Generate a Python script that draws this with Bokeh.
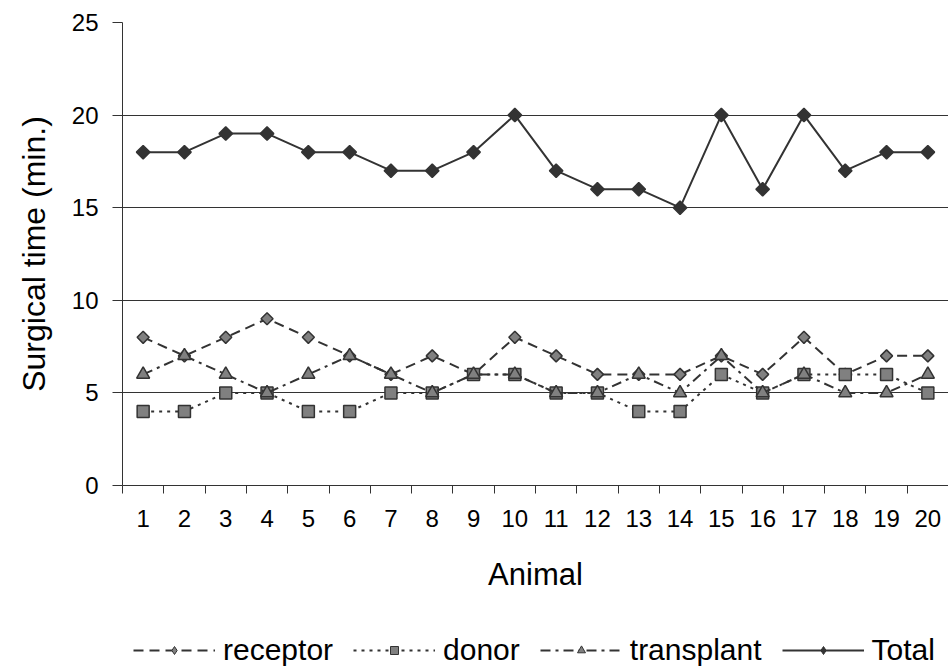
from bokeh.plotting import figure
from bokeh.layouts import column
from bokeh.models import Range1d, FixedTicker, Legend, LegendItem
from bokeh.embed import file_html
from bokeh.resources import INLINE

# Surgical times (minutes) per animal
animals = list(range(1, 21))
receptor = [8, 7, 8, 9, 8, 7, 6, 7, 6, 8, 7, 6, 6, 6, 7, 6, 8, 6, 7, 7]
donor = [4, 4, 5, 5, 4, 4, 5, 5, 6, 6, 5, 5, 4, 4, 6, 5, 6, 6, 6, 5]
transplant = [6, 7, 6, 5, 6, 7, 6, 5, 6, 6, 5, 5, 6, 5, 7, 5, 6, 5, 5, 6]
total = [18, 18, 19, 19, 18, 18, 17, 17, 18, 20, 17, 16, 16, 15, 20, 16, 20, 17, 18, 18]
y_ticks = [0, 5, 10, 15, 20, 25]

FONT = "Liberation Sans"
DARK = "#333333"
GREY = "#808080"

p = figure(width=948, height=615, output_backend="svg", toolbar_location=None,
           x_range=Range1d(0.5, 20.5), y_range=Range1d(0, 25),
           min_border_left=122, min_border_right=0, min_border_top=22,
           min_border_bottom=130)
p.outline_line_color = None
p.background_fill_color = "white"
p.border_fill_color = "white"

# x axis: labels at category centres, ticks on category boundaries
p.xaxis.ticker = FixedTicker(ticks=animals,
                             minor_ticks=[a - 0.5 for a in animals] + [20.5])
p.xaxis.major_label_overrides = {a: str(a) for a in animals}
p.xaxis.major_tick_line_color = None
p.xaxis.major_tick_out = 8
p.xaxis.major_tick_in = 0
p.xaxis.minor_tick_out = 8
p.xaxis.minor_tick_in = 0
p.xaxis.minor_tick_line_color = DARK
p.xaxis.axis_line_color = DARK
p.xaxis.axis_label = "Animal"
p.xaxis.major_label_standoff = 16
p.xaxis.axis_label_standoff = 27

p.yaxis.ticker = FixedTicker(ticks=y_ticks)
p.yaxis.minor_tick_line_color = None
p.yaxis.major_tick_out = 10
p.yaxis.major_tick_in = 0
p.yaxis.major_tick_line_color = DARK
p.yaxis.axis_line_color = DARK
p.yaxis.axis_label = "Surgical time (min.)"
p.yaxis.major_label_standoff = 14
p.yaxis.axis_label_standoff = 17

for ax in (p.xaxis, p.yaxis):
    ax.major_label_text_font = FONT
    ax.major_label_text_font_size = "24px"
    ax.major_label_text_color = "black"
    ax.axis_label_text_font = FONT
    ax.axis_label_text_font_style = "normal"
    ax.axis_label_text_color = "black"
p.xaxis.axis_label_text_font_size = "31px"
p.yaxis.axis_label_text_font_size = "32px"

p.xgrid.visible = False
p.ygrid.grid_line_color = DARK
p.ygrid.grid_line_width = 1

# name, values, dash, plot marker, angle, size, fill, legend marker, legend size
series = [
    ("receptor", receptor, "10 6", "square", 45, 8.5, GREY, "diamond", 11),
    ("donor", donor, "3 5", "square", 0, 12, GREY, "square", 8),
    ("transplant", transplant, "10 5 3 5", "triangle", 0, 13, GREY, "triangle", 9),
    ("Total", total, "solid", "square", 45, 9.5, DARK, "diamond", 12),
]

# strip underneath the chart that holds the legend; its y range lies far above
# the data, so the sample renderers only show up as legend glyphs
leg_fig = figure(width=948, height=55, output_backend="svg", toolbar_location=None,
                 x_range=Range1d(0.5, 20.5), y_range=Range1d(100, 101),
                 x_axis_type=None, y_axis_type=None,
                 min_border_left=0, min_border_right=0, min_border_top=0,
                 min_border_bottom=0)
leg_fig.outline_line_color = None
leg_fig.xgrid.visible = False
leg_fig.ygrid.visible = False

items = []
for name, vals, dash, marker, angle, size, fill, leg_marker, leg_size in series:
    p.line(animals, vals, line_color=DARK, line_width=2, line_dash=dash)
    p.scatter(animals, vals, marker=marker, angle=angle, angle_units="deg",
              size=size, fill_color=fill, line_color=DARK, line_width=1.5)
    lr = leg_fig.line(animals, vals, line_color=DARK, line_width=2, line_dash=dash)
    sr = leg_fig.scatter(animals, vals, marker=leg_marker, size=leg_size,
                         fill_color=fill, line_color=DARK, line_width=1)
    items.append(LegendItem(label=name, renderers=[lr, sr]))

legend = Legend(items=items, orientation="horizontal", location=(11, 3),
                glyph_width=82, glyph_height=20, label_standoff=8, spacing=20,
                padding=0, margin=0, border_line_color=None,
                background_fill_alpha=0,
                label_text_font=FONT, label_text_font_size="30px",
                label_text_color="black")
leg_fig.add_layout(legend, "center")

open("out.html", "w").write(file_html(column(p, leg_fig, spacing=0), INLINE))
